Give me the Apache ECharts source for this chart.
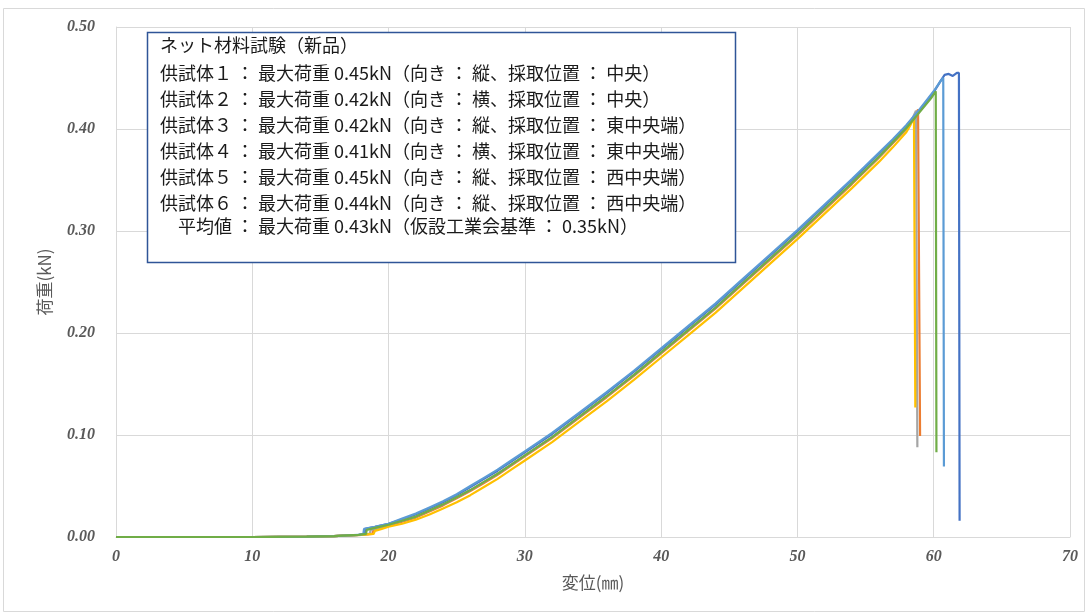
<!DOCTYPE html>
<html><head><meta charset="utf-8">
<script src="https://cdn.jsdelivr.net/npm/echarts@6/dist/echarts.min.js"></script>
<style>html,body{margin:0;padding:0;background:#fff}#c{width:1088px;height:616px}</style>
</head><body><div id="c"></div>
<script>
// x axis: displacement (mm), y axis: load (kN)
const xTicks = [0, 10, 20, 30, 40, 50, 60, 70];
const yTicks = [0, 0.1, 0.2, 0.3, 0.4, 0.5];
const xAxisName = '変位(㎜)';
const yAxisName = '荷重(kN)';
const seriesNames = ['供試体１', '供試体２', '供試体３', '供試体４', '供試体５', '供試体６'];
const seriesColors = ['#4472C4', '#ED7D31', '#A5A5A5', '#FFC000', '#5B9BD5', '#70AD47'];

const s1X = [0,5,10,14,16,17,17.8,18.25,18.3,19,20,21,22,23,24,25,26,27,28,29,30,32,34,36,38,40,42,44,46,48,50,52,54,55,56,57,58,59,60,60.5,60.8,61.1,61.4,61.7,61.85,61.9];
const s1Y = [0,0,0,0.0003,0.0008,0.0015,0.002,0.003,0.008,0.010,0.013,0.017,0.022,0.028,0.034,0.041,0.049,0.057,0.065,0.074,0.083,0.101,0.121,0.141,0.162,0.184,0.206,0.228,0.252,0.276,0.300,0.325,0.350,0.363,0.376,0.389,0.403,0.419,0.436,0.447,0.453,0.454,0.452,0.455,0.455,0.016];

const s2X = [0,5,10,14,16,17,18,18.8,18.9,19.5,20,21,22,23,24,25,26,27,28,29,30,32,34,36,38,40,42,44,46,48,50,52,54,55,56,57,58,58.5,58.85,59.0];
const s2Y = [0,0,0,0.0003,0.0008,0.0015,0.002,0.003,0.007,0.009,0.011,0.015,0.019,0.025,0.031,0.038,0.045,0.053,0.061,0.070,0.079,0.097,0.117,0.137,0.158,0.180,0.202,0.224,0.248,0.272,0.296,0.321,0.346,0.359,0.372,0.386,0.400,0.410,0.419,0.099];

const s3X = [0,5,10,14,16,17,18,18.6,18.7,19.5,20,21,22,23,24,25,26,27,28,29,30,32,34,36,38,40,42,44,46,48,50,52,54,55,56,57,58,58.4,58.7,58.8];
const s3Y = [0,0,0,0.0003,0.0008,0.0015,0.002,0.003,0.007,0.010,0.012,0.016,0.020,0.026,0.032,0.039,0.046,0.054,0.062,0.071,0.080,0.098,0.118,0.138,0.159,0.181,0.203,0.225,0.249,0.273,0.297,0.322,0.347,0.360,0.373,0.387,0.401,0.409,0.418,0.088];

const s4X = [0,5,10,14,16,17,18,18.9,19.0,19.5,20,21,22,23,24,25,26,27,28,29,30,32,34,36,38,40,42,44,46,48,50,52,54,55,56,57,58,58.3,58.55,58.65];
const s4Y = [0,0,0,0.0003,0.0008,0.0015,0.002,0.003,0.006,0.008,0.010,0.013,0.017,0.022,0.028,0.034,0.041,0.049,0.057,0.066,0.075,0.093,0.113,0.133,0.154,0.176,0.198,0.220,0.244,0.268,0.292,0.317,0.342,0.355,0.368,0.382,0.397,0.404,0.412,0.127];

const s5X = [0,5,10,14,16,17,17.8,18.15,18.2,19,20,21,22,23,24,25,26,27,28,29,30,32,34,36,38,40,42,44,46,48,50,52,54,55,56,57,58,59,60,60.5,60.7,60.75];
const s5Y = [0,0,0,0.0003,0.0008,0.0015,0.002,0.003,0.008,0.010,0.013,0.018,0.023,0.029,0.035,0.042,0.050,0.058,0.066,0.075,0.084,0.102,0.122,0.142,0.163,0.185,0.207,0.229,0.253,0.277,0.301,0.326,0.351,0.364,0.377,0.390,0.404,0.420,0.437,0.447,0.450,0.069];

const s6X = [0,5,10,14,16,17,17.8,18.35,18.4,19,20,21,22,23,24,25,26,27,28,29,30,32,34,36,38,40,42,44,46,48,50,52,54,55,56,57,58,59,59.8,60.15,60.2];
const s6Y = [0,0,0,0.0003,0.0008,0.0015,0.002,0.003,0.007,0.009,0.012,0.016,0.020,0.026,0.032,0.039,0.046,0.054,0.062,0.071,0.080,0.098,0.118,0.138,0.159,0.181,0.203,0.225,0.249,0.273,0.297,0.322,0.347,0.360,0.373,0.387,0.401,0.417,0.430,0.437,0.083];

const boxTitle = 'ネット材料試験（新品）';
const boxLines = [
  '供試体１ ： 最大荷重 0.45kN（向き ： 縦、採取位置 ： 中央）',
  '供試体２ ： 最大荷重 0.42kN（向き ： 横、採取位置 ： 中央）',
  '供試体３ ： 最大荷重 0.42kN（向き ： 縦、採取位置 ： 東中央端）',
  '供試体４ ： 最大荷重 0.41kN（向き ： 横、採取位置 ： 東中央端）',
  '供試体５ ： 最大荷重 0.45kN（向き ： 縦、採取位置 ： 西中央端）',
  '供試体６ ： 最大荷重 0.44kN（向き ： 縦、採取位置 ： 西中央端）',
  '平均値 ： 最大荷重 0.43kN（仮設工業会基準 ： 0.35kN）'
];

const xs = [s1X, s2X, s3X, s4X, s5X, s6X];
const ys = [s1Y, s2Y, s3Y, s4Y, s5Y, s6Y];

const chart = echarts.init(document.getElementById('c'));
const labelStyle = {color:'#595959', fontFamily:'Liberation Serif', fontStyle:'italic', fontWeight:'bold', fontSize:16};
const jp = '"Noto Sans CJK JP", sans-serif';

const textEls = [];
const lineYs = [47, 75, 101, 127, 153, 179, 205, 228];
const allLines = [boxTitle].concat(boxLines);
allLines.forEach((t, i) => {
  textEls.push({
    type:'text', left: (i === allLines.length - 1) ? 178 : 160, top: lineYs[i] - 11,
    style:{text:t, fill:'#1a1a1a', font:'18px ' + jp},
    z: 101
  });
});

chart.setOption({
  animation:false,
  backgroundColor:'#fff',
  grid:{left:116, right:18, top:27, bottom:79},
  xAxis:{
    type:'value', min:xTicks[0], max:xTicks[xTicks.length-1], interval:10,
    name:xAxisName, nameLocation:'middle', nameGap:37,
    nameTextStyle:{color:'#595959', fontSize:17, fontFamily:jp},
    axisLine:{show:true, lineStyle:{color:'#d9d9d9'}},
    axisTick:{show:false},
    splitLine:{lineStyle:{color:'#d9d9d9'}},
    axisLabel:Object.assign({margin:12}, labelStyle)
  },
  yAxis:{
    type:'value', min:yTicks[0], max:yTicks[yTicks.length-1], interval:0.1,
    name:yAxisName, nameLocation:'middle', nameGap:63,
    nameTextStyle:{color:'#595959', fontSize:17, fontFamily:jp},
    axisLine:{show:true, lineStyle:{color:'#d9d9d9'}},
    axisTick:{show:false},
    splitLine:{lineStyle:{color:'#d9d9d9'}},
    axisLabel:Object.assign({margin:21, formatter:v => v.toFixed(2)}, labelStyle)
  },
  series: seriesNames.map((n, i) => ({
    name:n, type:'line', showSymbol:false, symbol:'none',
    data: xs[i].map((x, j) => [x, ys[i][j]]),
    lineStyle:{color:seriesColors[i], width:2.2},
    itemStyle:{color:seriesColors[i]}
  })),
  graphic:[
    {type:'rect', shape:{x:3.5, y:8.5, width:1081, height:603}, style:{fill:'none', stroke:'#d9d9d9', lineWidth:1}, z:0, silent:true},
    {type:'rect', shape:{x:147.5, y:32.5, width:588, height:230}, style:{fill:'#fff', stroke:'#2F5597', lineWidth:1.5}, z:100}
  ].concat(textEls)
});
</script></body></html>
